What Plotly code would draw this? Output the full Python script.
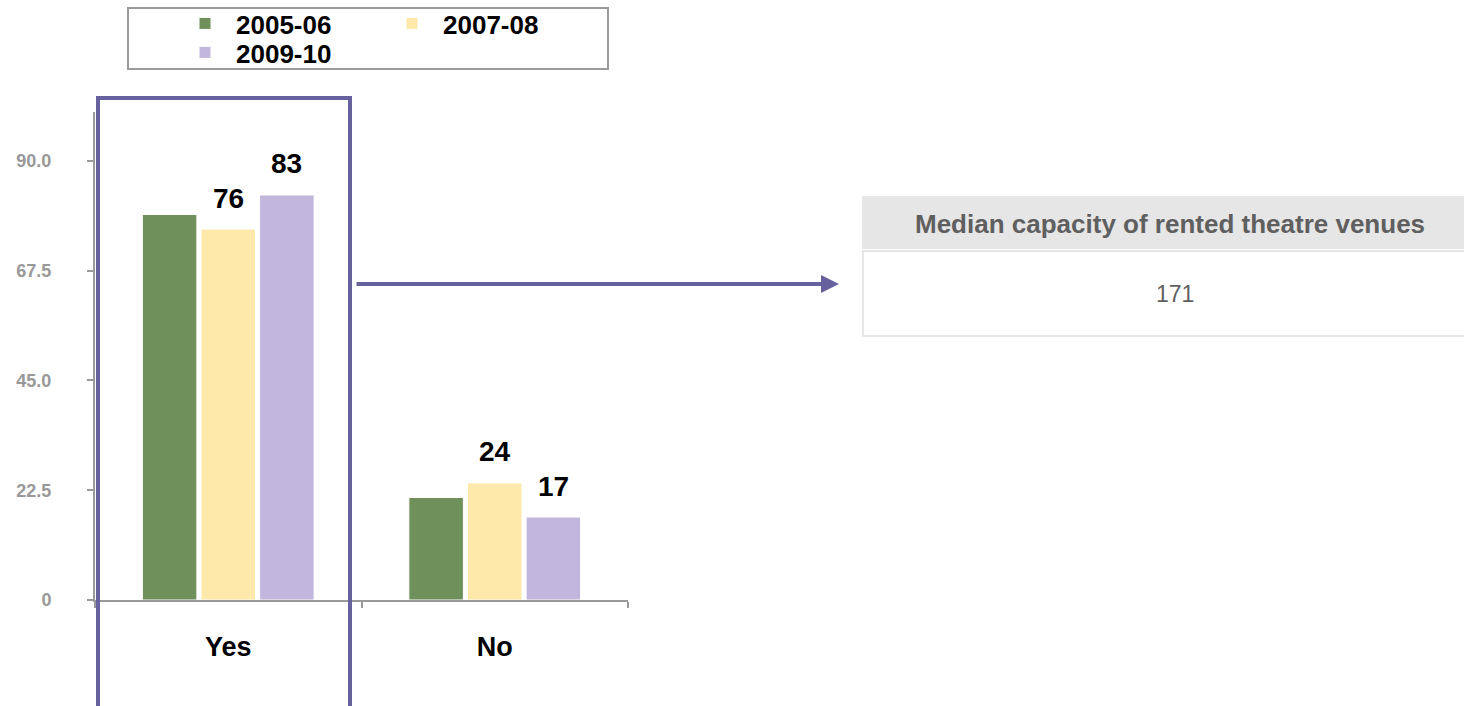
import plotly.graph_objects as go

W, H = 1464, 706

# Data
categories = ["Yes", "No"]
periods = ["2005-06", "2007-08", "2009-10"]
values_2005 = [79, 21]
values_2007 = [76, 24]
values_2009 = [83, 17]
colors = ["#6f8f5b", "#fee8aa", "#c1b7dc"]
show_labels = [False, True, True]

y_tickvals = [0, 22.5, 45, 67.5, 90]
y_ticktext = ["0", "22.5", "45.0", "67.5", "90.0"]

table_header = "Median capacity of rented theatre venues"
table_value = "171"

series = [values_2005, values_2007, values_2009]
legend_ids = ["legend", "legend2", "legend3"]

FONT = "Liberation Sans, Arial, sans-serif"
ACCENT = "#67629e"


def px(x):
    return x / W


def py(y):
    return 1 - y / H


BARGAP = 0.34
fig = go.Figure()
for name, vals, col, lg in zip(periods, series, colors, legend_ids):
    fig.add_trace(go.Bar(
        x=categories, y=vals, name=name,
        marker=dict(color=col, line=dict(color="white", width=1)),
        legend=lg,
    ))

# value labels above the later two periods
annotations = []
n = len(series)
slot = (1 - BARGAP) / n
for j, (vals, show) in enumerate(zip(series, show_labels)):
    if not show:
        continue
    for i, v in enumerate(vals):
        annotations.append(dict(
            x=i + (j - (n - 1) / 2) * slot, y=v, xref="x", yref="y",
            text=f"<b>{v}</b>", showarrow=False,
            xanchor="center", yanchor="middle", yshift=31,
            font=dict(family=FONT, size=28, color="black"),
        ))

# arrow from the highlighted group to the table
annotations.append(dict(
    x=px(839), y=py(284), xref="paper", yref="paper",
    ax=-(839 - 355), ay=0, axref="pixel", ayref="pixel",
    text="", showarrow=True, arrowhead=2, arrowsize=0.9,
    arrowwidth=4, arrowcolor=ACCENT,
))

# table texts
annotations.append(dict(
    x=px(1170), y=py(224), xref="paper", yref="paper",
    xanchor="center", yanchor="middle",
    text=f"<b>{table_header}</b>", showarrow=False,
    font=dict(family=FONT, size=26, color="#5f5f5f"),
))
annotations.append(dict(
    x=px(1175), y=py(294), xref="paper", yref="paper",
    xanchor="center", yanchor="middle",
    text=table_value, showarrow=False,
    font=dict(family=FONT, size=23, color="#5f5f5f"),
))

shapes = [
    # legend frame
    dict(type="rect", xref="paper", yref="paper",
         x0=px(128), x1=px(608), y0=py(8), y1=py(69),
         line=dict(color="#9a9a9a", width=2), fillcolor="rgba(0,0,0,0)"),
    # highlight frame around the "Yes" group
    dict(type="rect", xref="paper", yref="paper",
         x0=px(98), x1=px(350), y0=py(98), y1=py(716),
         line=dict(color=ACCENT, width=4), fillcolor="rgba(0,0,0,0)"),
    # table header
    dict(type="rect", xref="paper", yref="paper",
         x0=px(862), x1=px(1466), y0=py(196), y1=py(249),
         line=dict(width=0), fillcolor="#e6e6e6", layer="below"),
    # table body
    dict(type="rect", xref="paper", yref="paper",
         x0=px(863), x1=px(1466), y0=py(251), y1=py(336),
         line=dict(color="#e6e6e6", width=2), fillcolor="white", layer="below"),
]

legend_common = dict(
    orientation="v", bgcolor="rgba(0,0,0,0)", borderwidth=0,
    font=dict(family=FONT, size=26, color="black", weight="bold"),
    itemwidth=52, xanchor="left", yanchor="top", itemclick=False,
)

fig.update_layout(
    width=W, height=H,
    margin=dict(l=0, r=0, t=0, b=0, autoexpand=False),
    paper_bgcolor="white", plot_bgcolor="white",
    barmode="group", bargap=BARGAP, bargroupgap=0.07,
    showlegend=True,
    legend=dict(x=px(174), y=py(0), **legend_common),
    legend2=dict(x=px(381), y=py(0), **legend_common),
    legend3=dict(x=px(174), y=py(29), **legend_common),
    xaxis=dict(
        domain=[px(95), px(628)],
        showline=True, linecolor="#9a9a9a", linewidth=2,
        ticks="outside", tickson="boundaries", ticklen=6,
        tickcolor="#9a9a9a", tickwidth=2,
        tickfont=dict(family=FONT, size=27, color="black", weight="bold"),
        ticklabelstandoff=22,
        showgrid=False, zeroline=False, fixedrange=True,
    ),
    yaxis=dict(
        domain=[py(600), py(112)], range=[0, 100],
        tickvals=y_tickvals, ticktext=[f"<b>{t}</b>" for t in y_ticktext],
        showline=True, linecolor="#9a9a9a", linewidth=2,
        ticks="outside", ticklen=6, tickcolor="#9a9a9a", tickwidth=2,
        tickfont=dict(family=FONT, size=18, color="#999999"),
        ticklabelstandoff=32,
        showgrid=False, zeroline=False, fixedrange=True,
    ),
    annotations=annotations,
    shapes=shapes,
)

fig.write_html("out.html")
